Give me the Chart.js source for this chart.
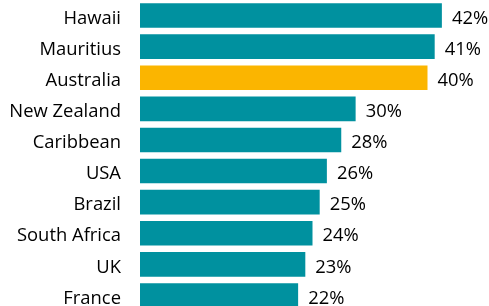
<!DOCTYPE html>
<html>
<head>
<meta charset="utf-8">
<script src="https://cdn.jsdelivr.net/npm/chart.js@4.4.1/dist/chart.umd.min.js"></script>
<style>
  html, body { margin: 0; padding: 0; background: #fff; overflow: hidden; }
  canvas { display: block; }
</style>
</head>
<body>
<canvas id="chart" width="489" height="311"></canvas>
<script>
// data
const categories = ['Hawaii', 'Mauritius', 'Australia', 'New Zealand', 'Caribbean', 'USA', 'Brazil', 'South Africa', 'UK', 'France'];
const values     = [42, 41, 40, 30, 28, 26, 25, 24, 23, 22];
const highlight  = 'Australia';

const TEAL = '#00919f';
const GOLD = '#fbb500';
const FONT = '"Open Sans", "Noto Sans", sans-serif';

// value labels to the right of each bar
const valueLabels = {
  id: 'valueLabels',
  afterDatasetsDraw(chart){
    const { ctx } = chart;
    const meta = chart.getDatasetMeta(0);
    ctx.save();
    ctx.font = '18.4px ' + FONT;
    ctx.fillStyle = '#000';
    ctx.textAlign = 'left';
    ctx.textBaseline = 'middle';
    meta.data.forEach((bar, i) => {
      ctx.fillText(values[i] + '%', bar.x + 10, bar.y + 3);
    });
    ctx.restore();
  }
};

new Chart(document.getElementById('chart'), {
  type: 'bar',
  data: {
    labels: categories,
    datasets: [{
      data: values,
      backgroundColor: categories.map(c => c === highlight ? GOLD : TEAL),
      borderWidth: 0,
      barPercentage: 0.79,
      categoryPercentage: 1
    }]
  },
  options: {
    indexAxis: 'y',
    responsive: false,
    animation: false,
    layout: { padding: { top: 0, right: 4, bottom: 0, left: 0 } },
    plugins: { legend: { display: false }, tooltip: { enabled: false } },
    scales: {
      x: {
        min: 0, max: 48,
        display: false
      },
      y: {
        grid: { display: false, drawTicks: false },
        border: { display: false },
        ticks: {
          color: '#000',
          padding: 19,
          labelOffset: 3,
          font: { family: FONT, size: 18.4 }
        },
        afterFit(scale){
          scale.width = 140;
          // tick padding also pads top/bottom of the axis; drop that
          scale.paddingTop = 0;
          scale.paddingBottom = 0;
        }
      }
    }
  },
  plugins: [valueLabels]
});
</script>
</body>
</html>
